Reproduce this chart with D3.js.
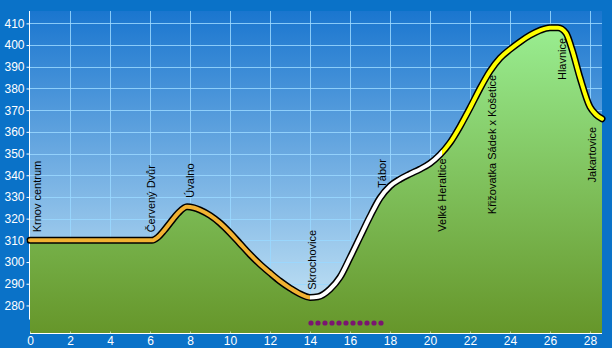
<!DOCTYPE html>
<html>
<head>
<meta charset="utf-8">
<script src="https://cdn.jsdelivr.net/npm/d3@7"></script>
<style>
  html, body { margin: 0; padding: 0; background: #0a72c8; }
  svg { display: block; }
  text { font-family: "Liberation Sans", Arial, sans-serif; }
</style>
</head>
<body>
<script>
// Elevation profile: distance (km) and altitude (m)
const profileKm = [0, 2, 4, 6.1, 6.4, 6.7, 7.0, 7.4, 7.85, 8.2, 8.5, 9.0, 9.5, 10, 10.5, 11, 11.5, 12, 12.5, 13, 13.5, 14, 14.4, 15, 15.5, 16, 16.5, 17, 17.5, 18, 18.5, 19, 19.5, 20, 20.5, 21, 21.5, 22, 22.5, 23, 23.5, 24, 24.5, 25, 25.5, 26, 26.4, 26.8, 27.1, 27.5, 28, 28.3, 28.6];
const profileAlt = [310, 310, 310, 310, 311.5, 314.5, 318, 322.5, 325.5, 325, 324, 321.5, 318, 313.5, 308.5, 303.5, 299, 295, 291.2, 288, 285.3, 283.7, 284, 287.5, 293, 302, 311.5, 321, 329.5, 335, 338.2, 340.6, 342.8, 345.5, 349.5, 355, 362.5, 371, 380, 388, 394, 398, 401.5, 404.5, 406.8, 408, 408, 405.5, 398, 385, 371.5, 368, 366];

// Colour of the route between the waypoints where it changes
const segmentBreaks = [0, 14, 20.6, 28.6];
const segmentColors = ["#f2b232", "#ffffff", "#ffff00"];

// Waypoints named along the route
const placeNames = ["Krnov centrum", "Červený Dvůr", "Úvalno", "Skrochovice", "Tábor", "Velké Heraltice", "Křižovatka Sádek x Košetice", "Hlavnice", "Jakartovice"];
const placeKm = [0.37, 6.05, 8.0, 14.1, 17.6, 20.6, 23.1, 26.6, 28.1];
const placeAlt = [310, 310, 326, 283.5, 330.5, 351.5, 390, 407, 366];
const placeBelow = [false, false, false, false, false, true, true, true, true];

// Marked stretch shown as a dotted row
const dotKm = [14.05, 14.4, 14.75, 15.1, 15.45, 15.8, 16.15, 16.5, 16.85, 17.2, 17.55];
const dotAlt = 271.9;

// Axis ticks
const xTicks = [0, 2, 4, 6, 8, 10, 12, 14, 16, 18, 20, 22, 24, 26, 28];
const yTicks = [280, 290, 300, 310, 320, 330, 340, 350, 360, 370, 380, 390, 400, 410];

const W = 612, H = 348;
const plot = { left: 30, right: 602, top: 11, bottom: 333 };

const x = d3.scaleLinear().domain([0, 28.6]).range([plot.left, plot.right]);
const y = d3.scaleLinear().domain([267.3, 415.7]).range([plot.bottom, plot.top]);

const svg = d3.select("body").append("svg").attr("width", W).attr("height", H);
const defs = svg.append("defs");

const sky = defs.append("linearGradient").attr("id", "sky")
  .attr("gradientUnits", "userSpaceOnUse")
  .attr("x1", 0).attr("y1", plot.top).attr("x2", 0).attr("y2", plot.bottom);
sky.append("stop").attr("offset", 0).attr("stop-color", "#1a76cf");
sky.append("stop").attr("offset", 1).attr("stop-color", "#cfeaf7");

const grass = defs.append("linearGradient").attr("id", "grass")
  .attr("gradientUnits", "userSpaceOnUse")
  .attr("x1", 0).attr("y1", plot.top).attr("x2", 0).attr("y2", plot.bottom);
grass.append("stop").attr("offset", 0).attr("stop-color", "#9cf296");
grass.append("stop").attr("offset", 1).attr("stop-color", "#66962a");

defs.append("clipPath").attr("id", "plotClip").append("rect")
  .attr("x", plot.left).attr("y", plot.top)
  .attr("width", plot.right - plot.left).attr("height", plot.bottom - plot.top);

// Outer frame
svg.append("rect").attr("width", W).attr("height", H).attr("fill", "#0a72c8");

// Plot background
svg.append("rect")
  .attr("x", plot.left).attr("y", plot.top)
  .attr("width", plot.right - plot.left).attr("height", plot.bottom - plot.top)
  .attr("fill", "url(#sky)");

// Grid
const grid = svg.append("g").attr("stroke", "#9ad8ff").attr("stroke-opacity", 0.85).attr("stroke-width", 1);
grid.selectAll("line.v").data(xTicks.slice(1)).join("line")
  .attr("x1", d => Math.round(x(d)) + 0.5).attr("x2", d => Math.round(x(d)) + 0.5)
  .attr("y1", plot.top).attr("y2", plot.bottom);
grid.selectAll("line.h").data(yTicks).join("line")
  .attr("x1", plot.left).attr("x2", plot.right)
  .attr("y1", d => Math.round(y(d)) + 0.5).attr("y2", d => Math.round(y(d)) + 0.5);

// Y axis
const yAxis = d3.axisLeft(y).tickValues(yTicks).tickSize(3).tickPadding(2).tickFormat(d3.format("d"));
const gy = svg.append("g").attr("transform", `translate(${plot.left - 0.5},0)`).call(yAxis);
gy.select(".domain").attr("stroke", "#ffffff").attr("d", `M0,${plot.top}V${y(273.5)}`);
gy.selectAll(".tick line").attr("stroke", "#ffffff");
gy.selectAll(".tick text").attr("fill", "#ffffff").attr("font-size", 12)
  .attr("font-family", "Liberation Sans, Arial, sans-serif");

const points = profileKm.map((k, i) => [k, profileAlt[i]]);
const curve = d3.curveMonotoneX;

// Terrain fill
const area = d3.area().x(d => x(d[0])).y0(plot.bottom).y1(d => y(d[1])).curve(curve);
svg.append("path").datum(points)
  .attr("clip-path", "url(#plotClip)")
  .attr("fill", "url(#grass)")
  .attr("d", area);

// X axis
const xAxis = d3.axisBottom(x).tickValues(xTicks).tickSize(0).tickPadding(3);
const gx = svg.append("g").attr("transform", `translate(0,${plot.bottom + 0.5})`).call(xAxis);
gx.select(".domain").attr("stroke", "#ffffff").attr("d", `M${plot.left},0H${plot.right}`);
gx.selectAll(".tick text").attr("fill", "#ffffff").attr("font-size", 12)
  .attr("font-family", "Liberation Sans, Arial, sans-serif");
gx.selectAll(".tick").append("line")
  .attr("y1", 0).attr("y2", -2).attr("stroke", "#e0f0c8").attr("stroke-opacity", 0.7);

// Route line: dark outline, then coloured stretches
const line = d3.line().x(d => x(d[0])).y(d => y(d[1])).curve(curve);
svg.append("path").datum(points)
  .attr("fill", "none").attr("stroke", "#000000").attr("stroke-width", 7)
  .attr("stroke-linejoin", "round").attr("stroke-linecap", "round")
  .attr("d", line);

segmentColors.forEach((c, i) => {
  const a = segmentBreaks[i], b = segmentBreaks[i + 1];
  const clipId = "seg" + i;
  defs.append("clipPath").attr("id", clipId).append("rect")
    .attr("x", x(a) - (i === 0 ? 10 : 0)).attr("y", 0)
    .attr("width", x(b) - x(a) + (i === 0 ? 10 : 0) + (i === segmentColors.length - 1 ? 10 : 0))
    .attr("height", H);
  svg.append("path").datum(points)
    .attr("clip-path", `url(#${clipId})`)
    .attr("fill", "none").attr("stroke", c).attr("stroke-width", 4)
    .attr("stroke-linejoin", "round").attr("stroke-linecap", "round")
    .attr("d", line);
});

// Dotted stretch
svg.append("g").selectAll("circle").data(dotKm).join("circle")
  .attr("cx", d => x(d)).attr("cy", y(dotAlt)).attr("r", 2.6)
  .attr("fill", "#7a1570");

// Waypoint names
svg.append("g").selectAll("text").data(placeNames).join("text")
  .attr("transform", (d, i) => {
    const px = x(placeKm[i]);
    const py = y(placeAlt[i]) + (placeBelow[i] ? 8 : -8);
    return `translate(${px},${py}) rotate(-90)`;
  })
  .attr("text-anchor", (d, i) => placeBelow[i] ? "end" : "start")
  .attr("dy", "0.36em")
  .attr("font-size", 11)
  .attr("fill", "#000000")
  .text(d => d);
</script>
</body>
</html>
